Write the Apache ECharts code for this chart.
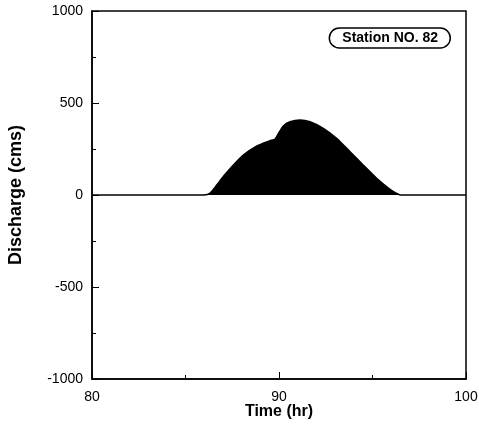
<!DOCTYPE html>
<html>
<head>
<meta charset="utf-8">
<script src="https://cdn.jsdelivr.net/npm/echarts@6/dist/echarts.min.js"></script>
<style>
html, body { margin: 0; padding: 0; background: #fff; }
#main { width: 479px; height: 430px; }
</style>
</head>
<body>
<div id="main"></div>
<script>
var times = [80, 86.0, 86.3, 86.67, 87.02, 87.56, 88.09, 88.8, 89.52, 89.79, 89.97, 90.23, 90.59, 91.12, 91.66, 92.37, 93.08, 93.8, 94.5, 95.22, 95.94, 96.38, 96.5, 100];
var discharge = [0, 0, 9, 54, 100, 163, 217, 266, 295, 304, 335, 375, 398, 408, 398, 362, 308, 235, 163, 91, 31, 4, 0, 0];
var stationLabel = 'Station NO. 82';

var points = [];
for (var i = 0; i < times.length; i++) {
    points.push([times[i], discharge[i]]);
}

var myChart = echarts.init(document.getElementById('main'));
var font = 'Liberation Sans, Arial, sans-serif';

var option = {
    animation: false,
    title: {
        text: stationLabel,
        right: 28,
        top: 28,
        padding: [3, 13],
        borderColor: '#000',
        borderWidth: 1.5,
        borderRadius: 11,
        textStyle: { fontFamily: font, fontSize: 14, fontWeight: 'bold', color: '#000' }
    },
    grid: {
        left: 92,
        right: 13,
        top: 11,
        bottom: 51,
        outerBoundsMode: 'none',
        show: true,
        borderColor: '#000',
        borderWidth: 1.5
    },
    xAxis: {
        type: 'value',
        min: 80,
        max: 100,
        interval: 10,
        name: 'Time (hr)',
        nameLocation: 'middle',
        nameGap: 25,
        nameMoveOverlap: false,
        nameTextStyle: { fontFamily: font, fontSize: 16, fontWeight: 'bold', color: '#000' },
        axisLine: { onZero: false, lineStyle: { color: '#000', width: 1.5 } },
        axisTick: { inside: true, length: 7, lineStyle: { color: '#000' } },
        minorTick: { show: true, splitNumber: 2, length: 4, lineStyle: { color: '#000' } },
        axisLabel: { fontFamily: font, fontSize: 14, color: '#000', margin: 11 },
        splitLine: { show: false }
    },
    yAxis: {
        type: 'value',
        min: -1000,
        max: 1000,
        interval: 500,
        name: 'Discharge (cms)',
        nameLocation: 'middle',
        nameGap: 67,
        nameMoveOverlap: false,
        nameTextStyle: { fontFamily: font, fontSize: 18, fontWeight: 'bold', color: '#000' },
        axisLine: { show: true, lineStyle: { color: '#000', width: 1.5 } },
        axisTick: { show: true, inside: true, length: 7, lineStyle: { color: '#000' } },
        minorTick: { show: true, splitNumber: 2, length: 4, lineStyle: { color: '#000' } },
        axisLabel: {
            fontFamily: font, fontSize: 14, color: '#000', margin: 9,
            formatter: function (v) { return String(v); }
        },
        splitLine: { show: false }
    },
    series: [
        {
            type: 'line',
            data: points,
            symbol: 'none',
            smooth: 0.2,
            lineStyle: { color: '#000', width: 1.5 },
            areaStyle: { color: '#000', opacity: 1 }
        }
    ]
};
myChart.setOption(option);
</script>
</body>
</html>
